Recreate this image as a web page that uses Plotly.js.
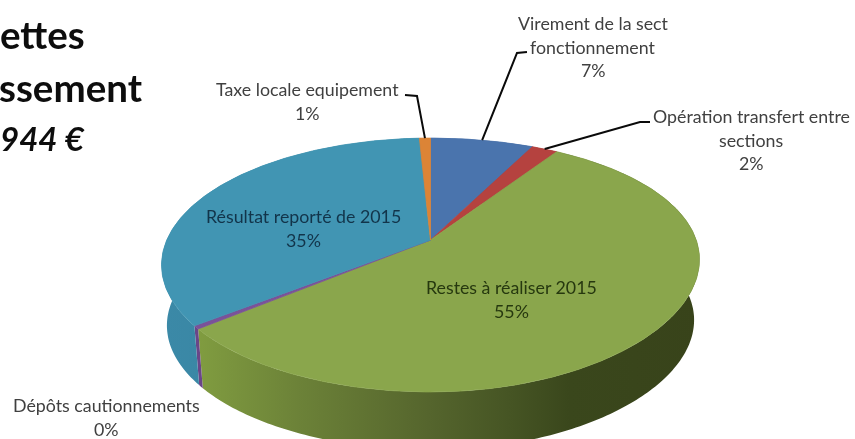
<!DOCTYPE html>
<html><head><meta charset="utf-8">
<script src="https://cdn.plot.ly/plotly-3.0.1.min.js"></script>
<style>html,body{margin:0;padding:0;background:#fff}#c{width:855px;height:439px;filter:blur(0.5px)}</style>
</head><body><div id="c"></div>
<script>
const categories = ["Virement de la sect fonctionnement","Opération transfert entre sections","Restes à réaliser 2015","Dépôts cautionnements","Résultat reporté de 2015","Taxe locale equipement"];
const shares = [7.5,1.9,54.6,0.4,34.8,0.8];
const topColors = ["#4a74ad","#b5423f","#8aa64c","#7a5299","#4195b3","#dc8436"];
const wallScales = [
  [[0,"#3d6090"],[1,"#3d6090"]],
  [[0,"#963634"],[1,"#963634"]],
  [[0,"#809c40"],[0.2,"#6c8238"],[0.46,"#55652d"],[0.62,"#465524"],[0.74,"#3a471c"],[1,"#38431a"]],
  [[0,"#6a4688"],[1,"#6a4688"]],
  [[0,"#3b89a7"],[1,"#367f9c"]],
  [[0,"#b86d2c"],[1,"#b86d2c"]]
];
const labelLines = [
  ["Virement de la sect","fonctionnement","7%"],
  ["Opération transfert entre","sections","2%"],
  ["Restes à réaliser 2015","55%"],
  ["Dépôts cautionnements","0%"],
  ["Résultat reporté de 2015","35%"],
  ["Taxe locale equipement","1%"]
];
const labelAnchors = [[593,23],[751,116],[511,287],[106,405],[303,216],[307,89]];
const labelColors = ["#404040","#404040","#26380f","#404040","#12344a","#404040"];
const titleLines = [["ettes",87,34,38.5,false],["ssement",145,87,38.5,false],["944 €",87,138,33,true]];
const leaderElbows = {0:[[527,52],[517,53]],1:[[650,122],[640,122]],5:[[405,95],[417,96]]};

// projection of the pie's disc
const cx=430.5, cy=240, a=263.7, b=122, k=0.197, depth=61, shrink=0.98, tilt=0.02;
function rim(f, low){
  const th=2*Math.PI*f, u=Math.sin(th), v=Math.cos(th), w=1+k*v;
  const X=a*u/w, Y=b*v/w, lift=X>0 ? tilt*X*X/a : 0;
  return low ? [cx+X*shrink, cy-Y*shrink+depth-lift] : [cx+X, cy-Y-lift];
}
function arc(f0,f1,low){
  const n=Math.max(3,Math.ceil((f1-f0)*400)), p=[];
  for(let i=0;i<=n;i++) p.push(rim(f0+(f1-f0)*i/n,low));
  return p;
}
const total=shares.reduce((s,v)=>s+v,0);
const traces=[], tops=[], shapes=[], annotations=[];
let acc=0;
shares.forEach((v,i)=>{
  const f0=acc/total, f1=(acc+v)/total; acc+=v;
  const up=arc(f0,f1,false), lo=arc(f0,f1,true);
  const wx=[], wy=[];
  for(let q=0;q<up.length-1;q++){
    [up[q],up[q+1],lo[q+1],lo[q],up[q]].forEach(p=>{wx.push(p[0]);wy.push(p[1]);});
    wx.push(null);wy.push(null);
  }
  traces.push({type:"scatter",mode:"lines",name:categories[i],x:wx,y:wy,
    fill:"toself",fillgradient:{type:"horizontal",colorscale:wallScales[i]},line:{width:0,simplify:false},hoverinfo:"skip"});
  const face=[[cx,cy]].concat(up,[[cx,cy]]);
  tops.push({type:"scatter",mode:"lines",name:categories[i],x:face.map(p=>p[0]),y:face.map(p=>p[1]),
    fill:"toself",fillcolor:topColors[i],line:{width:0.8,color:topColors[i]},hoverinfo:"skip"});
  if(leaderElbows[i]){
    const m=rim((f0+f1)/2,false), e=leaderElbows[i];
    shapes.push({type:"path",path:`M${e[0][0]},${e[0][1]}L${e[1][0]},${e[1][1]}L${m[0]},${m[1]}`,line:{color:"#0a0a0a",width:2}});
  }
  labelLines[i].forEach((t,j)=>annotations.push({x:labelAnchors[i][0],y:labelAnchors[i][1]+j*23.5,text:t,showarrow:false,
    xref:"x",yref:"y",xanchor:"center",yanchor:"middle",font:{family:"Lato",size:17.8,color:labelColors[i]}}));
});
titleLines.forEach(t=>annotations.push({x:t[1],y:t[2],text:t[4]?"<b><i>"+t[0]+"</i></b>":"<b>"+t[0]+"</b>",showarrow:false,
  xanchor:"right",yanchor:"middle",font:{family:"Lato",size:t[3],color:"#0d0d0d"}}));

Plotly.newPlot("c",traces.concat(tops),{
  width:855,height:439,margin:{l:0,r:0,t:0,b:0},showlegend:false,
  paper_bgcolor:"#fff",plot_bgcolor:"#fff",
  xaxis:{range:[0,855],visible:false,fixedrange:true},
  yaxis:{range:[439,0],visible:false,fixedrange:true},
  shapes,annotations
},{displayModeBar:false,staticPlot:true});
</script></body></html>
